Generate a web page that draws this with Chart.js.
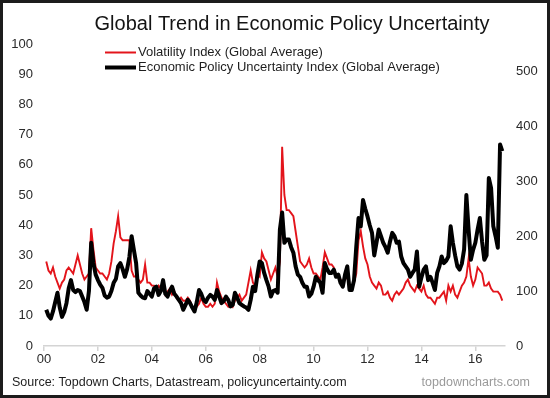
<!DOCTYPE html>
<html>
<head>
<meta charset="utf-8">
<title>Global Trend in Economic Policy Uncertainty</title>
<script src="https://cdn.jsdelivr.net/npm/chart.js@4.4.0/dist/chart.umd.min.js"></script>
<style>
    html, body { margin: 0; padding: 0; background: #fff; }
    #wrap { width: 550px; height: 398px; position: relative; }
</style>
</head>
<body>
<div id="wrap"><canvas id="chart" width="550" height="398"></canvas></div>
<script>
// --- Data (monthly, Jan 2000 - Dec 2016) ---
const startYear = 2000;
const xTickLabels = ['00', '02', '04', '06', '08', '10', '12', '14', '16'];
const leftTicks = [0, 10, 20, 30, 40, 50, 60, 70, 80, 90, 100];
const rightTicks = [0, 100, 200, 300, 400, 500];

const vixLabel = 'Volatility Index (Global Average)';
const epuLabel = 'Economic Policy Uncertainty Index (Global Average)';

// Volatility index, left axis
const vixValues = [
    28, 25, 24, 26, 23, 21, 19, 21, 22, 25, 26, 25,   // 2000
    24, 27, 30, 27, 24, 22, 23, 24, 39, 32, 26, 25,   // 2001
    24, 24, 23, 22, 24, 28, 34, 38, 43, 36, 35, 35,   // 2002
    35, 35, 25, 23, 23, 22, 21, 22, 27, 21, 21, 20,   // 2003
    20, 19, 20, 19, 20, 17, 18, 19, 17, 18, 16, 15,   // 2004
    16, 15, 15, 16, 15, 13, 12, 13, 14, 16, 14, 13,   // 2005
    13, 14, 13, 14, 21, 18, 16, 15, 14, 13, 14, 13,   // 2006
    15, 16, 17, 15, 16, 17, 21, 25, 21, 20, 24, 23,   // 2007
    31, 29, 28, 25, 22, 24, 26, 23, 28, 66, 50, 45,   // 2008
    45, 44, 43, 38, 33, 28, 27, 26, 27, 29, 26, 24,   // 2009
    24, 23, 22, 26, 31, 29, 27, 27, 26, 23, 23, 22,   // 2010
    21, 22, 23, 20, 20, 21, 24, 35, 38, 33, 29, 27,   // 2011
    23, 21, 20, 19, 21, 20, 17, 17, 18, 16, 15, 17,   // 2012
    18, 17, 18, 19, 21, 22, 20, 19, 18, 20, 19, 18,   // 2013
    20, 17, 16, 16, 15, 14, 16, 16, 17, 18, 15, 20,   // 2014
    18, 20, 17, 16, 18, 20, 21, 23, 29, 23, 20, 22,   // 2015
    26, 25, 24, 20, 20, 21, 19, 18, 18, 18, 17, 15    // 2016
];

// Economic policy uncertainty index, right axis
const epuValues = [
    66, 55, 50, 63, 80, 97, 70, 53, 62, 78, 105, 120,          // 2000
    102, 98, 102, 100, 90, 80, 66, 100, 188, 151, 130, 120,    // 2001
    112, 106, 92, 88, 90, 100, 115, 122, 145, 151, 140, 126,   // 2002
    140, 162, 200, 175, 151, 97, 92, 88, 87, 100, 95, 90,      // 2003
    105, 108, 93, 100, 120, 95, 90, 100, 108, 95, 90, 84,      // 2004
    78, 66, 75, 84, 78, 70, 63, 80, 102, 95, 84, 80,           // 2005
    88, 93, 90, 84, 102, 90, 78, 82, 90, 84, 72, 75,           // 2006
    97, 88, 78, 75, 72, 70, 66, 84, 108, 100, 130, 154,        // 2007
    151, 133, 120, 108, 90, 100, 102, 97, 212, 243, 188, 194,  // 2008
    194, 180, 170, 145, 130, 126, 115, 108, 108, 90, 95, 108,  // 2009
    126, 120, 115, 97, 151, 140, 133, 133, 139, 126, 130, 115, // 2010
    108, 130, 145, 102, 102, 120, 181, 233, 218, 266, 250, 236,// 2011
    220, 206, 165, 188, 212, 200, 188, 180, 170, 190, 206, 200,// 2012
    188, 190, 163, 151, 145, 139, 126, 133, 139, 172, 108, 125,// 2013
    139, 145, 120, 126, 115, 102, 133, 145, 163, 151, 155, 163,// 2014
    218, 188, 165, 145, 139, 150, 176, 275, 212, 157, 175, 188,// 2015
    212, 233, 190, 157, 165, 306, 288, 218, 200, 179, 367, 355 // 2016
];

// month-end positions on the time axis
function toPoints(values) {
    return values.map((v, i) => ({ x: startYear + (i + 1) / 12, y: v }));
}

const FONT = '"Liberation Sans", Arial, sans-serif';

// --- Title, legend, source line and frame ---
const decorPlugin = {
    id: 'decor',
    beforeDraw(chart) {
        const ctx = chart.ctx;
        ctx.save();
        ctx.fillStyle = '#fff';
        ctx.fillRect(0, 0, chart.width, chart.height);
        ctx.restore();
    },
    afterDraw(chart) {
        const ctx = chart.ctx;
        ctx.save();

        // title
        ctx.fillStyle = '#141414';
        ctx.font = '20px ' + FONT;
        ctx.textAlign = 'center';
        ctx.textBaseline = 'alphabetic';
        ctx.fillText('Global Trend in Economic Policy Uncertainty', 292, 30);

        // legend
        const items = [
            { ds: chart.data.datasets[1], y: 52.5, w: 2 },
            { ds: chart.data.datasets[0], y: 67.5, w: 4 }
        ];
        ctx.font = '13px ' + FONT;
        ctx.textAlign = 'left';
        ctx.textBaseline = 'middle';
        items.forEach(it => {
            ctx.strokeStyle = it.ds.borderColor;
            ctx.lineWidth = it.w;
            ctx.beginPath();
            ctx.moveTo(105, it.y);
            ctx.lineTo(136, it.y);
            ctx.stroke();
            ctx.fillStyle = '#1e1e1e';
            ctx.fillText(it.ds.label, 138, it.y);
        });

        // source
        ctx.font = '12.5px ' + FONT;
        ctx.fillStyle = '#1e1e1e';
        ctx.fillText('Source: Topdown Charts, Datastream, policyuncertainty.com', 12, 383);
        ctx.fillStyle = '#9a9a9a';
        ctx.textAlign = 'right';
        ctx.fillText('topdowncharts.com', 530, 383);

        // frame
        ctx.strokeStyle = '#1c1c1c';
        ctx.lineWidth = 3;
        ctx.strokeRect(1.5, 1.5, chart.width - 3, chart.height - 3);
        ctx.restore();
    }
};

new Chart(document.getElementById('chart'), {
    type: 'line',
    data: {
        datasets: [
            {
                label: epuLabel,
                data: toPoints(epuValues),
                yAxisID: 'y1',
                borderColor: '#000000',
                borderWidth: 4,
                borderJoinStyle: 'round',
                pointRadius: 0,
                tension: 0,
                order: 0
            },
            {
                label: vixLabel,
                data: toPoints(vixValues),
                yAxisID: 'y',
                borderColor: '#e3141b',
                borderWidth: 1.9,
                pointRadius: 0,
                tension: 0,
                order: 1
            }
        ]
    },
    options: {
        responsive: false,
        animation: false,
        layout: { padding: { top: 44, bottom: 28, left: 0, right: 0 } },
        plugins: {
            legend: { display: false },
            title: { display: false },
            tooltip: { enabled: false }
        },
        scales: {
            x: {
                type: 'linear',
                min: 2000,
                max: 2017.1,
                afterFit: s => { s.height = 24; },
                afterBuildTicks: s => {
                    s.ticks = xTickLabels.map((t, i) => ({ value: startYear + i * 2 }));
                },
                ticks: {
                    autoSkip: false,
                    maxRotation: 0,
                    padding: 1,
                    color: '#2a2a2a',
                    font: { family: FONT, size: 13 },
                    callback: (v, i) => xTickLabels[i]
                },
                grid: { drawOnChartArea: false, color: '#d4d4d4', tickLength: 5, lineWidth: 1.5 },
                border: { color: '#d4d4d4', width: 1.5 }
            },
            y: {
                position: 'left',
                min: 0,
                max: 100,
                afterFit: s => { s.width = 44; },
                afterBuildTicks: s => { s.ticks = leftTicks.map(v => ({ value: v })); },
                ticks: { padding: 11, color: '#2a2a2a', font: { family: FONT, size: 13 } },
                grid: { display: false, drawTicks: false },
                border: { display: false }
            },
            y1: {
                position: 'right',
                min: 0,
                max: 550,
                afterFit: s => { s.width = 45; },
                afterBuildTicks: s => { s.ticks = rightTicks.map(v => ({ value: v })); },
                ticks: { padding: 11, color: '#2a2a2a', font: { family: FONT, size: 13 } },
                grid: { display: false, drawTicks: false },
                border: { display: false }
            }
        }
    },
    plugins: [decorPlugin]
});
</script>
</body>
</html>
